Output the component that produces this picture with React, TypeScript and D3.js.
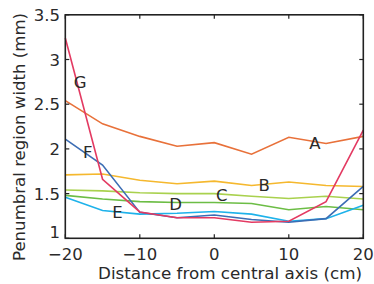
import React from "react";
import * as d3 from "d3";

const xValues = [-20, -15, -10, -5, 0, 5, 10, 15, 20];
const seriesA = [2.54, 2.28, 2.14, 2.03, 2.07, 1.94, 2.13, 2.06, 2.14];
const seriesB = [1.71, 1.72, 1.65, 1.61, 1.64, 1.59, 1.63, 1.59, 1.58];
const seriesC = [1.54, 1.53, 1.51, 1.5, 1.5, 1.47, 1.445, 1.47, 1.44];
const seriesD = [1.48, 1.44, 1.41, 1.4, 1.4, 1.39, 1.32, 1.355, 1.32];
const seriesE = [1.46, 1.31, 1.27, 1.28, 1.3, 1.27, 1.19, 1.22, 1.37];
const seriesF = [2.11, 1.82, 1.29, 1.23, 1.26, 1.21, 1.18, 1.22, 1.58];
const seriesG = [3.24, 1.66, 1.295, 1.23, 1.23, 1.18, 1.19, 1.41, 2.21];

const xTicks = [-20, -10, 0, 10, 20];
const yTicks = [1, 1.5, 2, 2.5, 3, 3.5];

const series = [
  { name: "A", values: seriesA, color: "#E8713A" },
  { name: "B", values: seriesB, color: "#F5B82E" },
  { name: "C", values: seriesC, color: "#A9D14E" },
  { name: "D", values: seriesD, color: "#6CBD45" },
  { name: "E", values: seriesE, color: "#1EB2EA" },
  { name: "F", values: seriesF, color: "#3C6DB4" },
  { name: "G", values: seriesG, color: "#E33A62" },
];

const labels = [
  { text: "A", x: 13.5, y: 2.07 },
  { text: "B", x: 6.7, y: 1.6 },
  { text: "C", x: 1, y: 1.48 },
  { text: "D", x: -5.2, y: 1.38 },
  { text: "E", x: -13, y: 1.29 },
  { text: "F", x: -17, y: 1.96 },
  { text: "G", x: -18, y: 2.75 },
];

const font = "'DejaVu Sans', sans-serif";
const textColor = "#2a2a2a";

export default function App() {
  const W = 374, H = 284;
  const left = 65.3, right = 363.3, top = 14.8, bottom = 238.3;
  const x = d3.scaleLinear().domain([-20, 20]).range([left, right]);
  const y = d3.scaleLinear().domain([1, 3.5]).range([bottom, top]);
  const line = d3
    .line<number>()
    .x((_, i) => x(xValues[i]))
    .y((d) => y(d));
  const tl = 4;
  return (
    <svg width={W} height={H} style={{ position: "absolute", left: 0, top: 0 }}>
      <rect width={W} height={H} fill="#fff" />
      <g fill="none" strokeWidth={1.6} strokeLinejoin="miter">
        {series.map((s) => (
          <path key={s.name} d={line(s.values) || ""} stroke={s.color} />
        ))}
      </g>
      <rect x={left} y={top} width={right - left} height={bottom - top} fill="none" stroke="#222" strokeWidth={1.6} />
      {xTicks.map((t) => (
        <g key={"x" + t}>
          <line x1={x(t)} x2={x(t)} y1={bottom} y2={bottom - tl} stroke="#222" strokeWidth={1.2} />
          <line x1={x(t)} x2={x(t)} y1={top} y2={top + tl} stroke="#222" strokeWidth={1.2} />
          <text x={x(t)} y={259.5} textAnchor="middle" fontFamily={font} fontSize={16.5} fill={textColor}>
            {t < 0 ? "\u2212" + Math.abs(t) : String(t)}
          </text>
        </g>
      ))}
      {yTicks.map((t) => (
        <g key={"y" + t}>
          <line x1={left} x2={left + tl} y1={y(t)} y2={y(t)} stroke="#222" strokeWidth={1.2} />
          <line x1={right} x2={right - tl} y1={y(t)} y2={y(t)} stroke="#222" strokeWidth={1.2} />
          <text x={60} y={t === 1 ? y(t) : y(t) + 6} textAnchor="end" fontFamily={font} fontSize={16.5} fill={textColor}>
            {String(t)}
          </text>
        </g>
      ))}
      {labels.map((l) => (
        <text key={l.text} x={x(l.x)} y={y(l.y) + 6} textAnchor="middle" fontFamily={font} fontSize={16.5} fill={textColor}>
          {l.text}
        </text>
      ))}
      <text x={230} y={278.5} textAnchor="middle" fontFamily={font} fontSize={15.5} fill={textColor} textLength={264} lengthAdjust="spacingAndGlyphs">
        Distance from central axis (cm)
      </text>
      <text
        transform={`translate(25, 137) rotate(-90)`}
        textAnchor="middle"
        fontFamily={font}
        fontSize={15.5}
        fill={textColor}
        textLength={248}
        lengthAdjust="spacingAndGlyphs"
      >
        Penumbral region width (mm)
      </text>
    </svg>
  );
}
